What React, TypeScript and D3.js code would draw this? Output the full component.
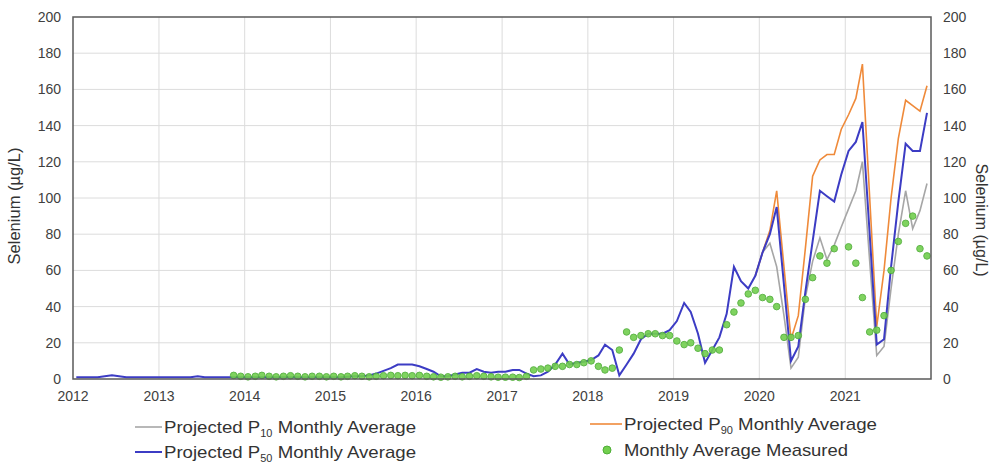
import * as d3 from "d3";

// monthly values, Jan 2012 .. Dec 2021 (mid-month points)
const startYear = 2012;
const endYear = 2022;
const yTicks = [0, 20, 40, 60, 80, 100, 120, 140, 160, 180, 200];

const p50 = [
  1, 1, 1, 1, 1.5, 2, 1.5, 1, 1, 1, 1, 1,
  1, 1, 1, 1, 1, 1.5, 1, 1, 1, 1, 1, 1,
  1, 1, 1, 1, 1, 1, 1, 1, 1, 1, 1, 1,
  1, 1, 1.2, 1.5, 1.5, 2, 3, 4.5, 6, 8, 8, 8,
  7, 5.5, 4, 1.5, 1.5, 2.5, 3.5, 3.5, 5.5, 4, 3.5, 4,
  4, 5, 5, 3, 1.5, 2, 4, 8, 14, 8, 9, 9.5,
  10.5, 13, 19, 16, 2, 8, 14, 22, 25, 25, 25, 27,
  32, 42, 37, 25, 9, 16, 23, 36, 62, 54, 50, 57,
  70, 80, 95, 52, 10, 18, 48, 76, 104, 101, 98, 113,
  126, 131, 142, 80, 19, 22, 62, 98, 130, 126, 126, 147,
];

// P10 / P90 separate from P50 from Dec 2019 on (month index 95)
const projStart = 95;
const p10 = [
  57, 70, 75, 62, 35, 6, 12, 45, 65, 78, 66, 74, 84,
  94, 104, 120, 65, 13, 18, 50, 80, 104, 83, 93, 108,
];
const p90 = [
  57, 70, 82, 104, 62, 22, 35, 72, 112, 121, 124, 124, 138,
  146, 155, 174, 100, 29, 60, 100, 133, 154, 151, 148, 162,
];

const measured: (number | null)[] = [
  null, null, null, null, null, null, null, null, null, null, null, null,
  null, null, null, null, null, null, null, null, null, null, 2, 1.5,
  1.2, 1.5, 2, 1.5, 1.2, 1.5, 1.8, 1.5, 1.2, 1.5, 1.5, 1.2,
  1.5, 1.2, 1.5, 1.8, 1.5, 1.2, 1.5, 1.8, 2, 1.8, 2, 1.8,
  2, 1.5, 1.2, 1, 1.2, 1.5, 1.2, 1.5, 1.8, 1.5, 1.2, 1,
  1, 1, 0.8, 1.5, 5, 5.5, 6, 7, 7, 8, 8, 9,
  10, 7, 5, 6, 16, 26, 23, 24, 25, 25, 24, 24,
  21, 19, 20, 17, 14, 16, 16, 30, 37, 42, 47, 49,
  45, 44, 40, 23, 23, 24, 44, 56, 68, 64, 72, null,
  73, 64, 45, 26, 27, 35, 60, 76, 86, 90, 72, 68,
];

const months = d3.range(p50.length).map(i => new Date(startYear, i, 15));

const width = 993;
const height = 464;
const marginLeft = 73;
const marginRight = 62;
const marginTop = 17;
const marginBottom = 85;

const font = "'Liberation Sans', Arial, sans-serif";

export default function App() {
  const x = d3.scaleTime()
    .domain([new Date(startYear, 0, 1), new Date(endYear, 0, 1)])
    .range([marginLeft, width - marginRight]);
  const y = d3.scaleLinear()
    .domain([0, 200])
    .range([height - marginBottom, marginTop]);

  const line = d3.line<[Date, number]>()
    .x(d => x(d[0]))
    .y(d => y(d[1]));

  const p50Pts: [Date, number][] = p50.map((v, i) => [months[i], v]);
  const p10Pts: [Date, number][] = p10.map((v, i) => [months[projStart + i], v]);
  const p90Pts: [Date, number][] = p90.map((v, i) => [months[projStart + i], v]);
  const dots = measured
    .map((v, i) => [months[i], v] as [Date, number | null])
    .filter(d => d[1] !== null) as [Date, number][];

  const years = d3.range(startYear, endYear).map(yr => new Date(yr, 0, 1));
  const x0 = marginLeft;
  const x1 = width - marginRight;
  const yb = y(0);

  return (
    <>
      <style>{`body{margin:0}`}</style>
      <svg width={width} height={height} style={{ display: "block", background: "#fff" }} fontFamily={font}>
        {/* grid */}
        <g stroke="#dcdcdc" strokeWidth={1}>
          {years.slice(1).map((d, i) => (
            <line key={i} x1={x(d)} x2={x(d)} y1={y(200)} y2={yb} />
          ))}
          {yTicks.slice(1, -1).map(t => (
            <line key={t} x1={x0} x2={x1} y1={y(t)} y2={y(t)} />
          ))}
        </g>

        {/* series */}
        <path d={line(p10Pts) ?? ""} fill="none" stroke="#a6a6a6" strokeWidth={1.6} />
        <path d={line(p90Pts) ?? ""} fill="none" stroke="#ef8a3a" strokeWidth={1.6} />
        <path d={line(p50Pts) ?? ""} fill="none" stroke="#3c3cc4" strokeWidth={2} />
        <g fill="#72cf4e" stroke="#4fae38" strokeWidth={1} opacity={0.9}>
          {dots.map((d, i) => (
            <circle key={i} cx={x(d[0])} cy={y(d[1])} r={3.3} />
          ))}
        </g>

        {/* frame */}
        <rect x={x0} y={y(200)} width={x1 - x0} height={yb - y(200)} fill="none" stroke="#5a5a5a" strokeWidth={1.5} />

        {/* axes labels */}
        <g fill="#404040" fontSize={14}>
          {yTicks.map(t => (
            <text key={"l" + t} x={x0 - 12} y={y(t)} dy="0.35em" textAnchor="end">{t}</text>
          ))}
          {yTicks.map(t => (
            <text key={"r" + t} x={x1 + 12} y={y(t)} dy="0.35em" textAnchor="start">{t}</text>
          ))}
          {years.map((d, i) => (
            <text key={i} x={x(d)} y={yb + 22} textAnchor="middle">{d.getFullYear()}</text>
          ))}
        </g>
        <text transform={`translate(20,206) rotate(-90)`} textAnchor="middle" fontSize={16.5} fill="#333">Selenium (µg/L)</text>
        <text transform={`translate(976,220) rotate(90)`} textAnchor="middle" fontSize={16} fill="#333">Selenium (µg/L)</text>

        {/* legend */}
        <g fontSize={17} fill="#333">
          <line x1={135} x2={162} y1={427} y2={427} stroke="#a6a6a6" strokeWidth={1.6} />
          <text x={164} y={433} textLength={252} lengthAdjust="spacingAndGlyphs">Projected P<tspan fontSize={10} dy={4}>10</tspan><tspan dy={-4}> Monthly Average</tspan></text>
          <line x1={135} x2={162} y1={452} y2={452} stroke="#3c3cc4" strokeWidth={2} />
          <text x={164} y={458} textLength={252} lengthAdjust="spacingAndGlyphs">Projected P<tspan fontSize={10} dy={4}>50</tspan><tspan dy={-4}> Monthly Average</tspan></text>
          <line x1={590} x2={622} y1={424} y2={424} stroke="#ef8a3a" strokeWidth={1.6} />
          <text x={624} y={430} textLength={253} lengthAdjust="spacingAndGlyphs">Projected P<tspan fontSize={10} dy={4}>90</tspan><tspan dy={-4}> Monthly Average</tspan></text>
          <circle cx={607} cy={450} r={4} fill="#72cf4e" stroke="#4fae38" />
          <text x={624} y={456} textLength={224} lengthAdjust="spacingAndGlyphs">Monthly Average Measured</text>
        </g>
      </svg>
    </>
  );
}
